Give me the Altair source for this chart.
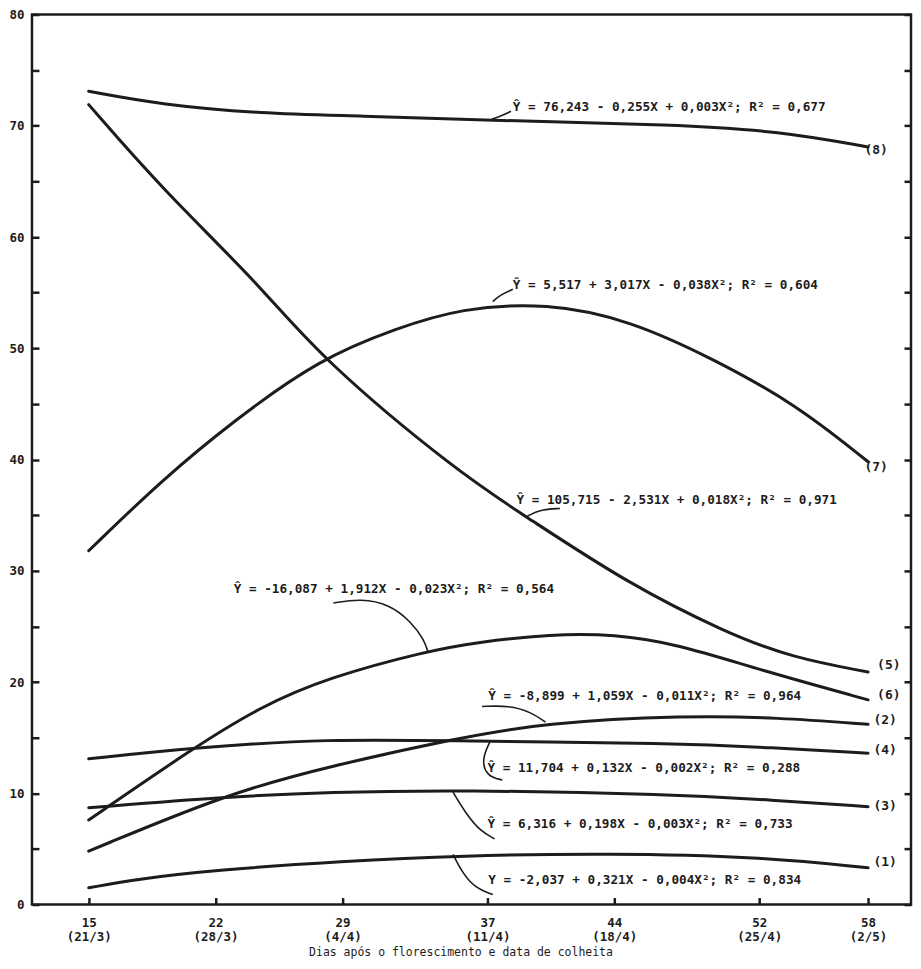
import altair as alt
import pandas as pd

# ---- axis ticks ----
tick_days = [15, 22, 29, 37, 44, 52, 58]
tick_dates = ["(21/3)", "(28/3)", "(4/4)", "(11/4)", "(18/4)", "(25/4)", "(2/5)"]
y_ticks = list(range(0, 81, 5))

# ---- curves (day, value) ----
c1_days = [15, 17.7, 22, 29, 35.5, 43.7, 52, 58]
c1_vals = [1.5, 2.3, 3.1, 3.9, 4.4, 4.6, 4.3, 3.3]

c2_days = [15, 22.7, 28.2, 35.5, 40, 48, 53, 58]
c2_vals = [4.8, 10.0, 12.4, 15.0, 16.3, 17.0, 16.8, 16.2]

c3_days = [15, 22.7, 28.2, 35.5, 47.2, 52.7, 58]
c3_vals = [8.7, 9.7, 10.1, 10.3, 9.9, 9.4, 8.8]

c4_days = [15, 20.8, 28.2, 35.5, 47.2, 52.7, 58]
c4_vals = [13.1, 14.1, 14.9, 14.7, 14.5, 14.1, 13.6]

c5_days = [15, 19, 24.5, 27.8, 35.5, 39.2, 44.7, 50.2, 53.8, 58]
c5_vals = [71.9, 64.4, 55.6, 49.1, 38.7, 34.8, 28.9, 24.4, 22.2, 20.9]

c6_days = [15, 20.8, 24.5, 28.2, 33.7, 36.5, 40.5, 44, 47.5, 52, 58]
c6_vals = [7.6, 14.1, 17.8, 20.4, 22.8, 23.6, 24.3, 24.3, 23.4, 21.1, 18.4]

c7_days = [15, 19, 23, 27.8, 32, 35.5, 40.3, 44.9, 49.4, 54.0, 58]
c7_vals = [31.8, 38.1, 43.5, 49.1, 51.8, 53.6, 54.1, 52.5, 49.1, 45.0, 39.8]

c8_days = [15, 19, 24.5, 30, 36.6, 47.6, 53.1, 58]
c8_vals = [73.1, 71.9, 71.1, 70.9, 70.5, 70.1, 69.5, 68.1]

curves = {
    "1": (c1_days, c1_vals), "2": (c2_days, c2_vals), "3": (c3_days, c3_vals),
    "4": (c4_days, c4_vals), "5": (c5_days, c5_vals), "6": (c6_days, c6_vals),
    "7": (c7_days, c7_vals), "8": (c8_days, c8_vals),
}

# ---- curve labels ----
lab_text = ["(1)", "(2)", "(3)", "(4)", "(5)", "(6)", "(7)", "(8)"]
lab_days = [58.3, 58.3, 58.3, 58.3, 58.5, 58.5, 57.8, 57.8]
lab_vals = [3.8, 16.6, 8.9, 13.9, 21.5, 18.8, 39.3, 67.8]

# ---- regression equations ----
eq_text = [
    "Y = -2,037 + 0,321X - 0,004X²; R² = 0,834",
    "Ŷ = -8,899 + 1,059X - 0,011X²; R² = 0,964",
    "Ŷ = 6,316 + 0,198X - 0,003X²; R² = 0,733",
    "Ŷ = 11,704 + 0,132X - 0,002X²; R² = 0,288",
    "Ŷ = 105,715 - 2,531X + 0,018X²; R² = 0,971",
    "Ŷ = -16,087 + 1,912X - 0,023X²; R² = 0,564",
    "Ŷ =  5,517 + 3,017X - 0,038X²; R² = 0,604",
    "Ŷ = 76,243 - 0,255X + 0,003X²; R² = 0,677",
]
eq_days = [37.05, 37.05, 37.0, 37.0, 38.6, 23.0, 38.4, 38.4]
eq_vals = [2.2, 18.7, 7.25, 12.3, 36.4, 28.4, 55.7, 71.7]

# ---- leader lines from equations to curves ----
leaders = {
    "1": ([35.1, 35.6, 36.3, 37.3], [4.5, 2.9, 1.5, 0.9]),
    "2": ([36.7, 38.2, 39.4, 40.2], [17.8, 17.9, 17.3, 16.4]),
    "3": ([35.1, 35.8, 36.6, 37.4], [10.1, 8.2, 6.6, 5.9]),
    "4": ([37.16, 36.66, 36.99, 37.82], [14.7, 13.0, 11.5, 11.2]),
    "5": ([41.0, 39.9, 39.2], [35.6, 35.5, 34.9]),
    "6": ([28.5, 30.0, 31.6, 32.8, 33.5, 33.7], [27.1, 27.5, 27.0, 25.4, 23.8, 22.8]),
    "7": ([38.4, 37.7, 37.3], [55.3, 54.8, 54.2]),
    "8": ([38.3, 37.8, 37.25], [71.3, 70.9, 70.6]),
}


def to_rows(d):
    rows = []
    for k, (xs, ys) in d.items():
        for i, (x, y) in enumerate(zip(xs, ys)):
            rows.append({"curve": k, "day": x, "val": y, "i": i})
    return pd.DataFrame(rows)


curve_df = to_rows(curves)
leader_df = to_rows(leaders)
lab_df = pd.DataFrame({"t": lab_text, "day": lab_days, "val": lab_vals})
eq_df = pd.DataFrame({"t": eq_text, "day": eq_days, "val": eq_vals})

FONT = "DejaVu Sans Mono"
INK = "#1c1c1c"

label_expr = " : ".join(
    f"datum.value == {d} ? ['{d}', '{t}']" for d, t in zip(tick_days, tick_dates)
) + " : ''"

x_scale = alt.Scale(domain=[11.87, 60.37], nice=False, zero=False)
y_scale = alt.Scale(domain=[0, 80], nice=False)

x_axis = alt.Axis(
    values=tick_days, labelExpr=label_expr, title="Dias após o florescimento e data de colheita",
    offset=-7, tickSize=7, tickWidth=2.5, tickColor=INK, domain=False, grid=False,
    labelFont=FONT, labelFontSize=12.5, labelFontWeight="bold", labelColor=INK,
    labelPadding=12, labelLineHeight=14, labelFlush=False, labelOverlap=False,
    titleFont=FONT, titleFontSize=11.5, titleFontWeight="normal", titleColor=INK,
    titlePadding=4, titleX=429,
)
y_axis = alt.Axis(
    values=y_ticks, labelExpr="datum.value % 10 == 0 ? datum.label : ''", title=None,
    offset=-7, tickSize=7, tickWidth=2.5, tickColor=INK, domain=False, grid=False,
    labelFont=FONT, labelFontSize=12.5, labelFontWeight="bold", labelColor=INK,
    labelPadding=8,
)
y_axis_right = alt.Axis(
    values=y_ticks, orient="right", labels=False, title=None,
    offset=-7, tickSize=7, tickWidth=2.5, tickColor=INK, domain=False, grid=False,
)

X = alt.X("day:Q", scale=x_scale, axis=x_axis)

lines = alt.Chart(curve_df).mark_line(
    interpolate="basis", strokeWidth=3, color=INK, strokeCap="round"
).encode(
    x=X,
    y=alt.Y("val:Q", scale=y_scale, axis=y_axis),
    detail="curve:N",
    order="i:Q",
)

leader_lines = alt.Chart(leader_df).mark_line(
    interpolate="basis", strokeWidth=1.6, color=INK
).encode(
    x=X,
    y=alt.Y("val:Q", scale=y_scale, axis=None),
    detail="curve:N",
    order="i:Q",
)

eqs = alt.Chart(eq_df).mark_text(
    align="left", baseline="middle", font=FONT, fontSize=12.7, fontWeight="bold", color=INK
).encode(
    x=X,
    y=alt.Y("val:Q", scale=y_scale, axis=None),
    text="t:N",
)

labs = alt.Chart(lab_df).mark_text(
    align="left", baseline="middle", font=FONT, fontSize=13, fontWeight="bold", color=INK
).encode(
    x=X,
    y=alt.Y("val:Q", scale=y_scale, axis=y_axis_right),
    text="t:N",
)

chart = alt.layer(lines, leader_lines, eqs, labs).resolve_axis(y="independent").properties(
    width=880, height=891,
    padding={"left": 0, "top": 0, "right": 0, "bottom": 0},
    background="white",
).configure_view(stroke=INK, strokeWidth=2.5)

chart.save("out.html", embed_options={"renderer": "svg", "actions": False})
